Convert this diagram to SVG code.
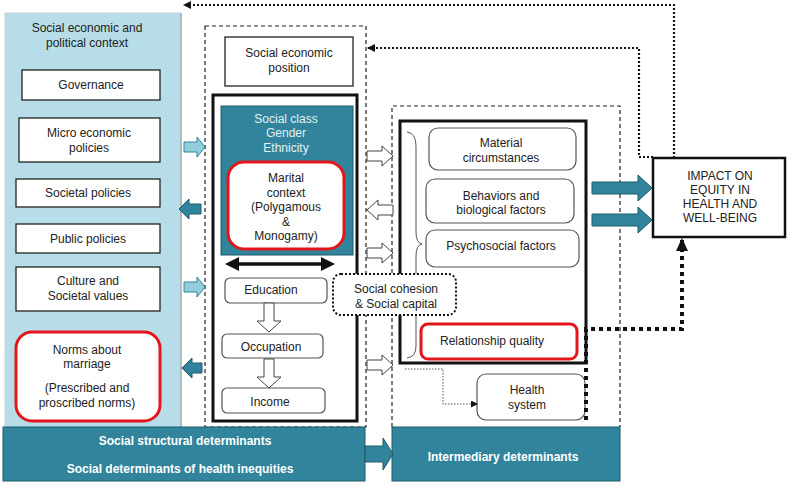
<svg xmlns="http://www.w3.org/2000/svg" width="788" height="483" viewBox="0 0 788 483">
<style>
text{font-family:"Liberation Sans",Arial,sans-serif;font-size:12px;fill:#222;text-anchor:middle}
.wb{fill:#fff;stroke:#222;stroke-width:1.3}
.rb{fill:#fff;stroke:#555;stroke-width:1.2}
.red{fill:#fff;stroke:#e3161c;stroke-width:3}
.band{fill:#31849b;stroke:#1f5a6a;stroke-width:1}
.bt{fill:#fff;font-weight:bold}
.lt{fill:#e2f1f6}
.dash{fill:none;stroke:#222;stroke-width:1.2;stroke-dasharray:4 3}
.dot{fill:none;stroke:#111;stroke-width:2.2;stroke-dasharray:2 2}
.thk{fill:none;stroke:#111;stroke-width:3}
.la{fill:#92cddc;stroke:#31849b;stroke-width:1}
.da{fill:#31849b;stroke:#1f5a6a;stroke-width:1}
.ha{fill:#fff;stroke:#444;stroke-width:1}
</style>
<defs>
<marker id="ah" markerWidth="8" markerHeight="8" refX="7" refY="4" orient="auto" markerUnits="userSpaceOnUse"><path d="M0,0 L8,4 L0,8 Z" fill="#111"/></marker>
<marker id="ahs" markerWidth="7" markerHeight="7" refX="6" refY="3.5" orient="auto" markerUnits="userSpaceOnUse"><path d="M0,0 L7,3.5 L0,7 Z" fill="#111"/></marker>
<marker id="ahb" markerWidth="14" markerHeight="12" refX="12" refY="6" orient="auto" markerUnits="userSpaceOnUse"><path d="M0,0 L13,6 L0,12 Z" fill="#111"/></marker>
</defs>

<g id="context-panel">
<rect x="5" y="13" width="176" height="415" fill="#b7dde8" stroke="#c6d3d7" stroke-width="1"/>
<line x1="181" y1="13" x2="181" y2="428" stroke="#aebcc1" stroke-width="2"/>
<text x="87" y="32">Social economic and</text>
<text x="87" y="47">political context</text>
</g>
<g id="governance"><rect class="wb" x="22" y="70" width="138" height="30"/><text x="91" y="89">Governance</text></g>
<g id="micro-economic"><rect class="wb" x="19" y="118" width="141" height="44"/><text x="89" y="137">Micro economic</text><text x="89" y="152">policies</text></g>
<g id="societal-policies"><rect class="wb" x="16" y="179" width="144" height="28"/><text x="88" y="197">Societal policies</text></g>
<g id="public-policies"><rect class="wb" x="16" y="224" width="144" height="29"/><text x="88" y="243">Public policies</text></g>
<g id="culture"><rect class="wb" x="16" y="267" width="144" height="44"/><text x="88" y="285">Culture and</text><text x="88" y="300">Societal values</text></g>
<g id="norms"><rect class="red" x="16" y="332" width="144" height="89" rx="16"/><text x="87" y="354">Norms about</text><text x="87" y="368">marriage</text><text x="87" y="392">(Prescribed and</text><text x="87" y="407">proscribed norms)</text></g>

<g id="structural-frame"><rect class="dash" x="205" y="26" width="161" height="401"/></g>
<g id="sep"><rect class="wb" x="225" y="37" width="128" height="49"/><text x="289" y="57">Social economic</text><text x="289" y="72">position</text></g>
<g id="sep-frame"><rect class="thk" x="213" y="95" width="144" height="326"/></g>
<g id="social-class"><rect x="221" y="106" width="132" height="149" fill="#31849b" stroke="#1f5a6a" stroke-width="1"/><text class="lt" x="286" y="123">Social class</text><text class="lt" x="286" y="137">Gender</text><text class="lt" x="286" y="152">Ethnicity</text></g>
<g id="marital"><rect class="red" x="228" y="162" width="116" height="87" rx="16"/><text x="286" y="182">Marital</text><text x="286" y="197">context</text><text x="286" y="211">(Polygamous</text><text x="286" y="226">&amp;</text><text x="286" y="240">Monogamy)</text></g>
<g id="education"><rect class="rb" x="225" y="278" width="102" height="25" rx="5"/><text x="271" y="294">Education</text></g>
<g id="occupation"><rect class="rb" x="222" y="334" width="101" height="24" rx="5"/><text x="271" y="351">Occupation</text></g>
<g id="income"><rect class="rb" x="222" y="388" width="103" height="25" rx="5"/><text x="270" y="406">Income</text></g>

<g id="intermediary-frame"><path class="dash" d="M392,427 V106 H620 V427"/></g>
<g id="intermediary-box"><rect class="thk" x="400" y="121" width="186" height="242"/>
<path d="M407,132 Q416,133 416,146 V232 Q416,243 422,244 Q416,245 416,256 V346 Q416,357 407,358" fill="none" stroke="#555" stroke-width="1"/></g>
<g id="material"><rect class="rb" x="429" y="128" width="147" height="42" rx="9"/><text x="501" y="147">Material</text><text x="501" y="162">circumstances</text></g>
<g id="behaviors"><rect class="rb" x="426" y="179" width="148" height="44" rx="9"/><text x="501" y="200">Behaviors and</text><text x="501" y="214">biological factors</text></g>
<g id="psychosocial"><rect class="rb" x="426" y="230" width="153" height="37" rx="9"/><text x="501" y="250">Psychosocial factors</text></g>
<g id="relationship"><rect class="red" x="421" y="324" width="156" height="35" rx="7"/><text x="492" y="345">Relationship quality</text></g>
<g id="health-system"><rect class="rb" x="477" y="374" width="108" height="46" rx="9"/><text x="527" y="394">Health</text><text x="527" y="409">system</text></g>

<g id="cohesion"><rect x="333" y="274" width="123" height="41" rx="8" fill="#fff" stroke="#111" stroke-width="2" stroke-dasharray="2 2"/><text x="396" y="293">Social cohesion</text><text x="396" y="308">&amp; Social capital</text></g>

<g id="impact"><rect x="653" y="158" width="132" height="79" fill="#fff" stroke="#111" stroke-width="2.5"/><text x="720" y="180">IMPACT ON</text><text x="720" y="194">EQUITY IN</text><text x="720" y="208">HEALTH AND</text><text x="720" y="222">WELL-BEING</text></g>

<g id="structural-band"><rect class="band" x="3" y="427" width="362" height="54"/><text class="bt" x="185" y="445">Social structural determinants</text><text class="bt" x="180" y="473">Social determinants of health inequities</text></g>
<g id="intermediary-band"><rect class="band" x="392" y="427" width="228" height="54"/><text class="bt" x="503" y="461">Intermediary determinants</text></g>

<g id="connectors">
<path class="dot" d="M674,158 V5 H184" marker-end="url(#ah)"/>
<path class="dot" d="M653,157 H639 V48 H368" marker-end="url(#ah)"/>
<path d="M586,420 V329 H682 V239" fill="none" stroke="#111" stroke-width="4" stroke-dasharray="4 4" marker-end="url(#ahb)"/>
<path d="M405,369 H443 V404 H477" fill="none" stroke="#555" stroke-width="1" stroke-dasharray="1.5 1.5" marker-end="url(#ahs)"/>
<line x1="237" y1="264" x2="323" y2="264" stroke="#111" stroke-width="3.5"/>
<path d="M225,264 L239,257 L239,271 Z M335,264 L321,257 L321,271 Z" fill="#111"/>
<polygon class="ha" points="264,303 274,303 274,321 281,321 269,332 257,321 264,321"/>
<polygon class="ha" points="264,359 274,359 274,377 281,377 269,388 257,377 264,377"/>
<polygon class="la" points="184,142 197,142 197,137 205,147 197,157 197,152 184,152"/>
<polygon class="da" points="179,209 189,199 189,204 201,204 201,214 189,214 189,219"/>
<polygon class="la" points="184,282 197,282 197,277 205,287 197,297 197,292 184,292"/>
<polygon class="da" points="182,368 192,358 192,363 202,363 202,373 192,373 192,378"/>
<polygon class="ha" points="367,151 382,151 382,146 393,156 382,166 382,161 367,161"/>
<polygon class="ha" points="367,210 378,200 378,205 393,205 393,215 378,215 378,220"/>
<polygon class="ha" points="367,248 382,248 382,243 393,253 382,263 382,258 367,258"/>
<polygon class="ha" points="367,360 382,360 382,355 393,365 382,375 382,370 367,370"/>
<polygon class="da" points="365,446 383,446 383,438 393,454 383,470 383,462 365,462"/>
<polygon class="da" points="592,182 638,182 638,175 652,188 638,201 638,194 592,194"/>
<polygon class="da" points="592,214 638,214 638,207 652,220 638,233 638,226 592,226"/>
</g>
</svg>
